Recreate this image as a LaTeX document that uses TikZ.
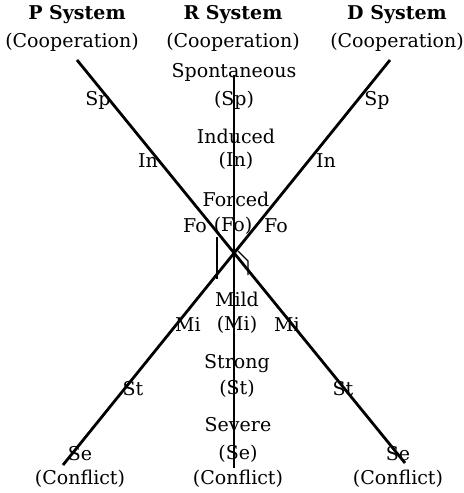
\documentclass[tikz,border=0pt]{standalone}
\usepackage{fontspec}
\setmainfont{DejaVu Serif}
\begin{document}
\begin{tikzpicture}[x=0.5pt,y=-0.5pt,
  lbl/.style={inner sep=0pt,font=\fontsize{9.5}{11}\selectfont},
  head/.style={inner sep=0pt,font=\fontsize{9.5}{11}\selectfont\bfseries},
  axisline/.style={line width=1.4pt},
  midline/.style={line width=0.7pt},
  anglemark/.style={line width=0.6pt}]
\useasboundingbox (0,0) rectangle (463,493);
% end points
\coordinate (pT) at (77,60);
\coordinate (pB) at (405,463);
\coordinate (dT) at (390,60);
\coordinate (dB) at (63,465);
\coordinate (rT) at (234,75);
\coordinate (rB) at (234,468);
\draw[axisline] (pT) -- (pB);
\draw[axisline] (dT) -- (dB);
\draw[midline] (rT) -- (rB);
% right-angle marks
\coordinate (m1) at (217,237);
\coordinate (m2) at (217,279);
\draw[anglemark] (m1) -- (m2);
\coordinate (m3) at (238,251);
\coordinate (m4) at (248,261);
\coordinate (m5) at (248,275);
\draw[anglemark] (m3) -- (m4) -- (m5);
% headings
\node[head] (hP) at (77,15) {P System};
\node[head] (hR) at (233,15) {R System};
\node[head] (hD) at (397,15) {D System};
\node[lbl] (cP) at (72,42) {(Cooperation)};
\node[lbl] (cR) at (233,42) {(Cooperation)};
\node[lbl] (cD) at (397,42) {(Cooperation)};
% middle column
\node[lbl] (sp) at (234,72) {Spontaneous};
\node[lbl] (spa) at (234,100) {(Sp)};
\node[lbl] (in) at (236,136) {Induced};
\node[lbl] (ina) at (236,161) {(In)};
\node[lbl] (fo) at (236,199) {Forced};
\node[lbl] (foa) at (233,226) {(Fo)};
\node[lbl] (mi) at (237,299) {Mild};
\node[lbl] (mia) at (237,325) {(Mi)};
\node[lbl] (st) at (237,364) {Strong};
\node[lbl] (sta) at (237,389) {(St)};
\node[lbl] (se) at (238,425) {Severe};
\node[lbl] (sea) at (238,454) {(Se)};
% side labels
\node[lbl] (pSp) at (98,100) {Sp};
\node[lbl] (dSp) at (377,100) {Sp};
\node[lbl] (pIn) at (148,161) {In};
\node[lbl] (dIn) at (326,161) {In};
\node[lbl] (pFo) at (195,226) {Fo};
\node[lbl] (dFo) at (276,226) {Fo};
\node[lbl] (lMi) at (188,325) {Mi};
\node[lbl] (rMi) at (287,325) {Mi};
\node[lbl] (lSt) at (133,389) {St};
\node[lbl] (rSt) at (343,389) {St};
\node[lbl] (lSe) at (80,454) {Se};
\node[lbl] (rSe) at (398,454) {Se};
% conflict
\node[lbl] (kL) at (80,479) {(Conflict)};
\node[lbl] (kM) at (238,479) {(Conflict)};
\node[lbl] (kR) at (398,479) {(Conflict)};
\end{tikzpicture}
\end{document}
